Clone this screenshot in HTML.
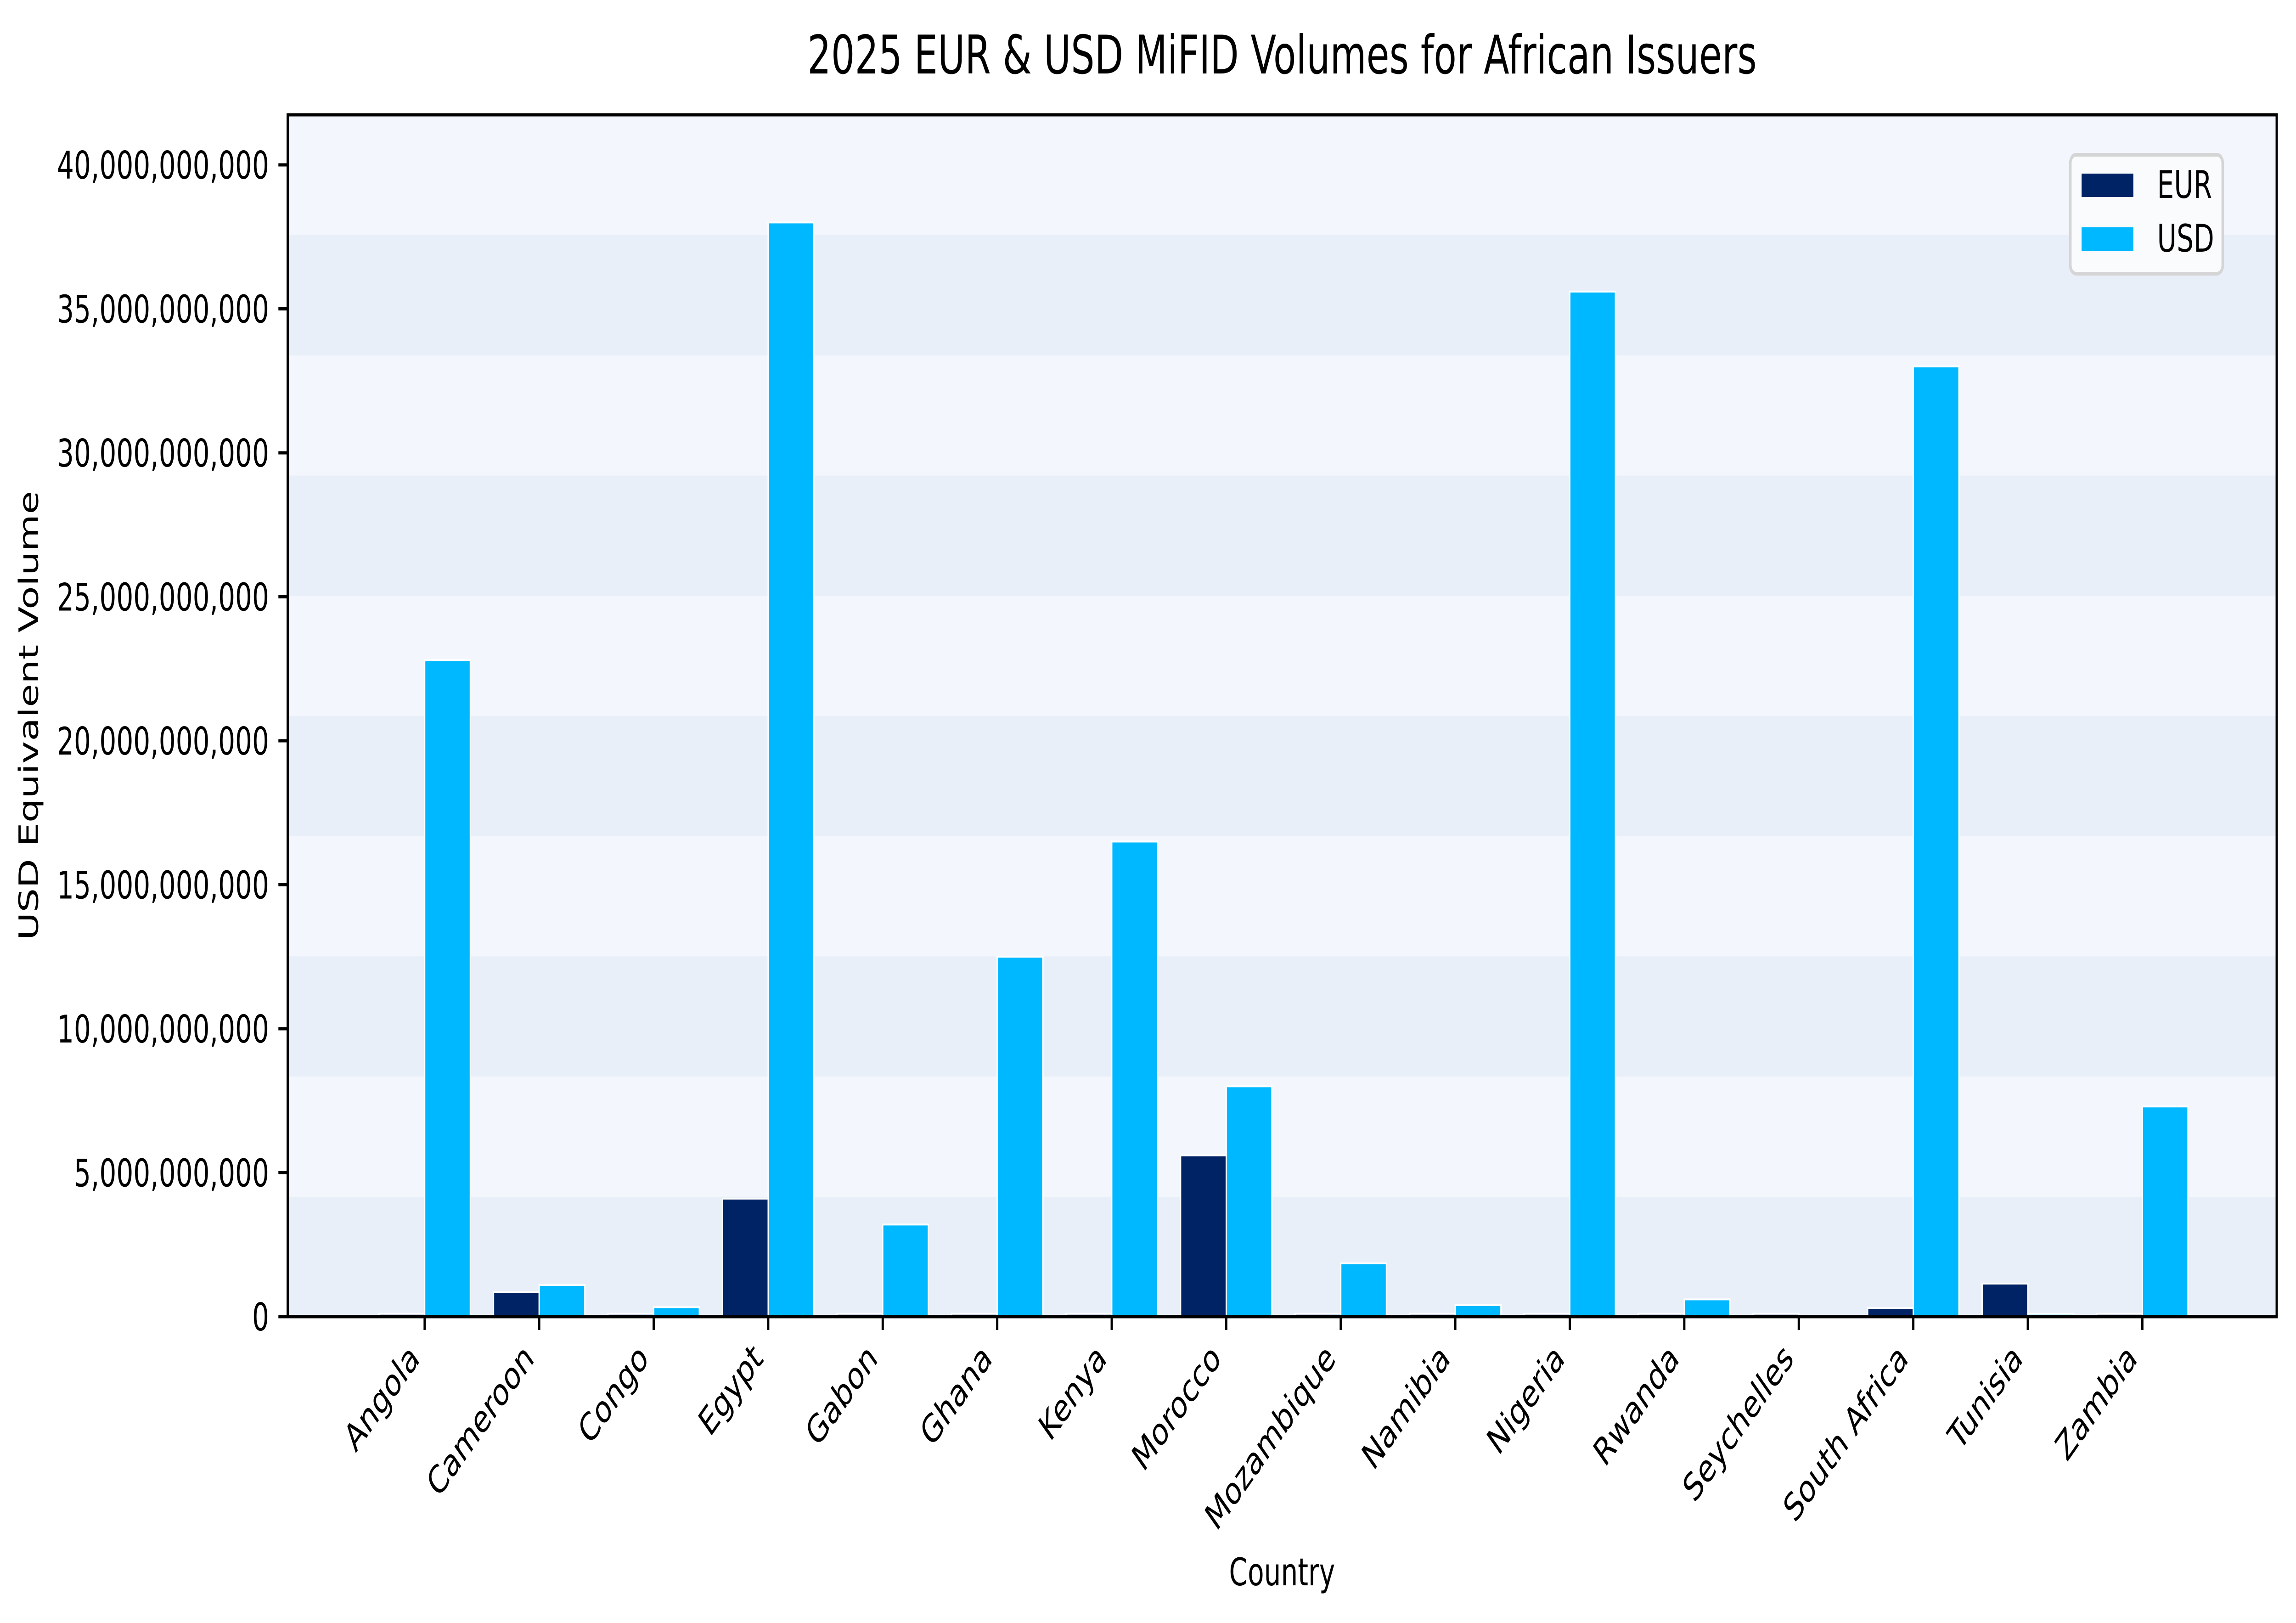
<!DOCTYPE html>
<html><head><meta charset="utf-8"><style>
html,body{margin:0;padding:0;background:#fff;width:100%;height:100%;overflow:hidden;}
svg{display:block;width:100vw;height:100vh;font-family:"DejaVu Sans","Liberation Sans",sans-serif;}
</style></head><body>
<svg id="chart" viewBox="0 0 7142 3534" preserveAspectRatio="none" xmlns="http://www.w3.org/2000/svg">
<rect x="0" y="0" width="7142" height="3534" fill="#fff"/>
<g id="bands"></g>
<g id="bars"></g>
<g id="axes"></g>
<text x="3988" y="160" font-size="116" text-anchor="middle" fill="#000">2025 EUR &amp; USD MiFID Volumes for African Issuers</text>
<text x="3988" y="3452" font-size="83" text-anchor="middle" fill="#000">Country</text>
<text transform="translate(118,1558) rotate(-90)" font-size="83" text-anchor="middle" fill="#000">USD Equivalent Volume</text>
<g>
<rect x="6440" y="337" width="474" height="259" rx="18" fill="#f9fbfd" stroke="#d5d5d5" stroke-width="8"/>
<rect x="6475" y="378" width="161" height="51" fill="#002366"/>
<text x="6710" y="431" font-size="83" fill="#000">EUR</text>
<rect x="6475" y="495" width="161" height="51" fill="#00b8ff"/>
<text x="6710" y="548" font-size="83" fill="#000">USD</text>
</g>
</svg>
<script>
const categories = ["Angola","Cameroon","Congo","Egypt","Gabon","Ghana","Kenya","Morocco","Mozambique","Namibia","Nigeria","Rwanda","Seychelles","South Africa","Tunisia","Zambia"];
const eurValues = [0.1e9,0.85e9,0.1e9,4.1e9,0.1e9,0.1e9,0.1e9,5.6e9,0.1e9,0.1e9,0.1e9,0.1e9,0.1e9,0.3e9,1.15e9,0.1e9];
const usdValues = [22.8e9,1.1e9,0.33e9,38.0e9,3.2e9,12.5e9,16.5e9,8.0e9,1.85e9,0.4e9,35.6e9,0.6e9,0.02e9,33.0e9,0.1e9,7.3e9];
const yTicks = [0,5e9,10e9,15e9,20e9,25e9,30e9,35e9,40e9];
const yTickLabels = ["0","5,000,000,000","10,000,000,000","15,000,000,000","20,000,000,000","25,000,000,000","30,000,000,000","35,000,000,000","40,000,000,000"];

const NS="http://www.w3.org/2000/svg";
const L=895,R=7082,T=250,B=2867;
const yMax=(B-T)/62.7*1e9;
const x0=1321, step=356.2, barW=142;
function y(v){return B-(v/yMax)*(B-T);}
function x(i){return x0+i*step;}
function mk(tag,attrs,parent){const e=document.createElementNS(NS,tag);for(const k in attrs)e.setAttribute(k,attrs[k]);parent.appendChild(e);return e;}

const bands=document.getElementById('bands');
const bh=(B-T)/10;
for(let i=0;i<10;i++){
  const r=mk('rect',{x:L,y:B-(i+1)*bh,width:R-L,height:bh+0.5,fill:i%2===0?'#e8eff8':'#f3f7fd'},bands);
  
  
}

const bars=document.getElementById('bars');
categories.forEach((c,i)=>{
  const e=mk('rect',{x:x(i)-barW,y:y(eurValues[i]),width:barW,height:B-y(eurValues[i]),fill:'#002366',stroke:'#fff','stroke-width':4},bars);
  
  
  const u=mk('rect',{x:x(i),y:y(usdValues[i]),width:barW,height:B-y(usdValues[i]),fill:'#00b8ff',stroke:'#fff','stroke-width':4},bars);
  
  
});

const axes=document.getElementById('axes');
const frame=mk('rect',{x:L,y:T,width:R-L,height:B-T,fill:'none',stroke:'#000','stroke-width':7},axes);


yTicks.forEach((v,i)=>{
  const t=mk('line',{x1:L-29,x2:L,y1:y(v),y2:y(v),stroke:'#000','stroke-width':7},axes);
  
  
  const lb=mk('text',{x:L-58,y:y(v)+30,'font-size':83,'text-anchor':'end',fill:'#000'},axes);
  lb.textContent=yTickLabels[i];
  
  
});
categories.forEach((c,i)=>{
  const t=mk('line',{x1:x(i),x2:x(i),y1:B,y2:B+29,stroke:'#000','stroke-width':7},axes);
  
  
  const px=x(i)-12, py=2962;
  const lb=mk('text',{x:px,y:py,'font-size':83,'text-anchor':'end',fill:'#000',transform:'rotate(-45 '+px+' '+py+')'},axes);
  lb.textContent=c;
  
  
});
</script>
</body></html>
